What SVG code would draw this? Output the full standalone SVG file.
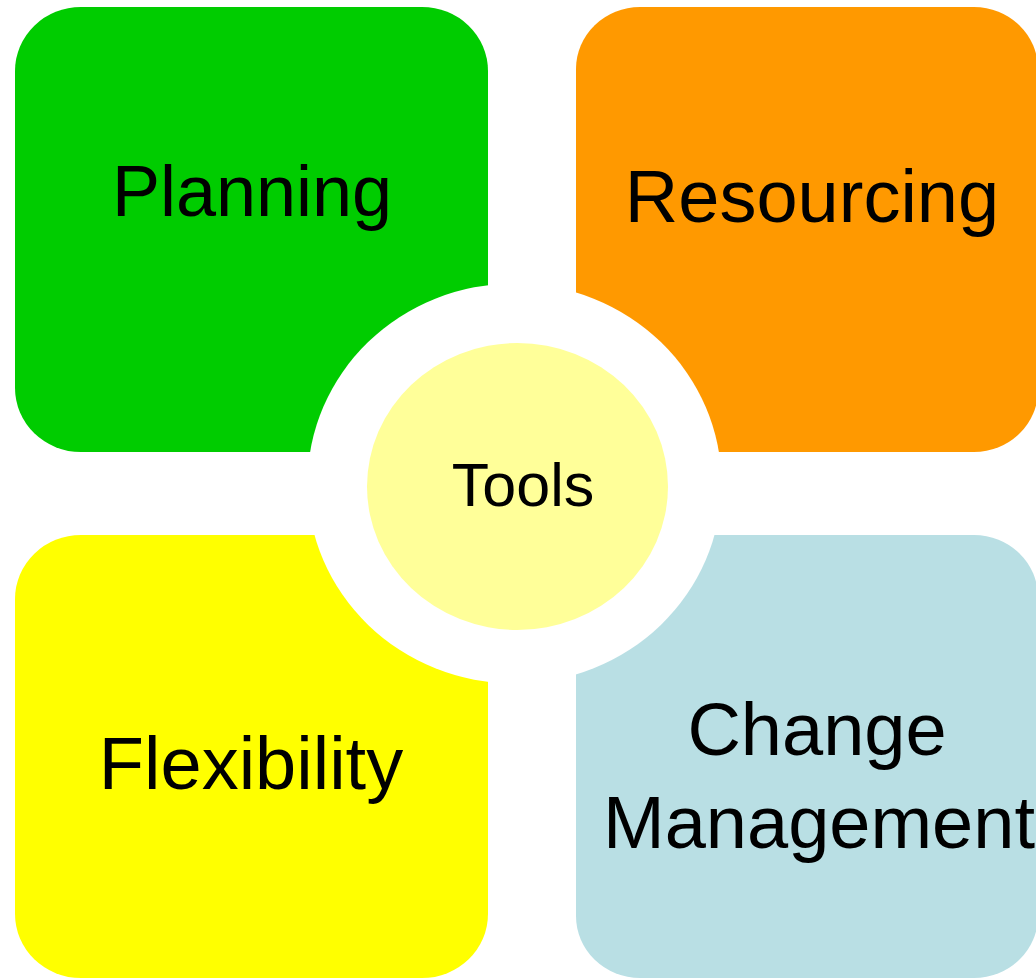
<svg xmlns="http://www.w3.org/2000/svg" width="1036" height="979" viewBox="0 0 1036 979">
  <style>
    .lbl { font-family: "Liberation Sans", Arial, sans-serif; fill: #000000; text-anchor: middle; }
    .big { font-size: 74px; }
    .p72 { font-size: 72px; }
    .mid { font-size: 61px; }
  </style>
  <defs>
    <mask id="cut" maskUnits="userSpaceOnUse" x="0" y="0" width="1036" height="979">
      <rect x="0" y="0" width="1036" height="979" fill="#ffffff"/>
      <ellipse cx="514.5" cy="483.5" rx="207" ry="200" fill="#000000"/>
    </mask>
  </defs>
  <rect x="0" y="0" width="1036" height="979" fill="#ffffff"/>
  <g id="connectors"/>
  <g mask="url(#cut)">
    <g id="planning">
      <rect x="15" y="7" width="473" height="445" rx="66" ry="64" fill="#00CC00"/>
    </g>
    <g id="resourcing">
      <rect x="576" y="7" width="462" height="445" rx="64" ry="62" fill="#FF9900"/>
    </g>
    <g id="flexibility">
      <rect x="15" y="535" width="473" height="443" rx="66" ry="64" fill="#FFFF00"/>
    </g>
    <g id="change-management">
      <rect x="576" y="535" width="462" height="443" rx="64" ry="62" fill="#B9DFE4"/>
    </g>
  </g>
  <text class="lbl p72" x="252" y="216">Planning</text>
  <text class="lbl big" x="812" y="222">Resourcing</text>
  <text class="lbl big" x="251" y="789">Flexibility</text>
  <text class="lbl big" x="817" y="755">Change</text>
  <text class="lbl big" x="819" y="848">Management</text>
  <g id="tools">
    <ellipse cx="517.5" cy="486.5" rx="150.5" ry="143.5" fill="#FFFF99"/>
    <text class="lbl mid" x="523" y="506">Tools</text>
  </g>
</svg>
